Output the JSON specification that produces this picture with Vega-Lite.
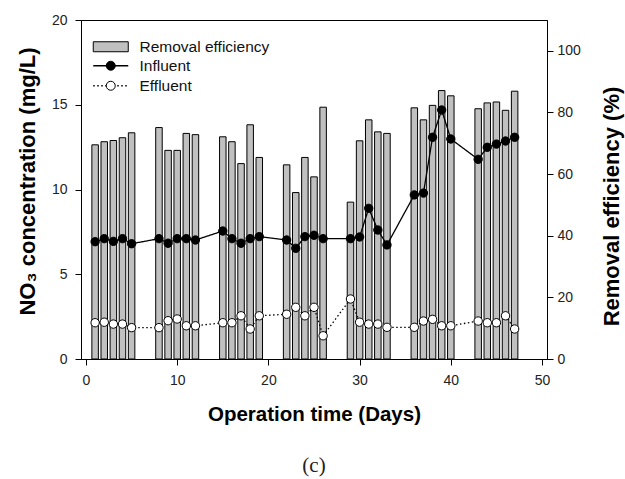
{
  "$schema": "https://vega.github.io/schema/vega-lite/v6.json",
  "width": 466,
  "height": 339,
  "autosize": {"type": "none"},
  "padding": {"left": 81, "top": 20, "right": 78, "bottom": 120},
  "background": "white",
  "config": {
    "view": {"stroke": "black", "strokeWidth": 1},
    "font": "Liberation Sans",
    "axis": {
      "grid": false,
      "domainColor": "black",
      "tickColor": "black",
      "labelFont": "Liberation Sans",
      "labelFontSize": 14,
      "labelColor": "#222",
      "titleFont": "Liberation Sans",
      "titleFontSize": 20.5,
      "titleFontWeight": "bold",
      "titleColor": "#000",
      "tickSize": 6,
      "labelPadding": 4
    },
    "legend": {
      "orient": "none",
      "padding": 0,
      "symbolSize": 100,
      "labelFont": "Liberation Sans",
      "labelFontSize": 15.5,
      "labelColor": "#111",
      "labelOffset": 21,
      "rowPadding": 3
    }
  },
  "title": {
    "text": "(c)",
    "orient": "bottom",
    "anchor": "middle",
    "font": "Liberation Serif",
    "fontSize": 21,
    "fontWeight": "normal",
    "color": "#222",
    "offset": 30
  },
  "datasets": {
    "eff": [
      {"day": 1, "eff": 69.5}, {"day": 2, "eff": 70.5}, {"day": 3, "eff": 70.9}, {"day": 4, "eff": 71.8}, {"day": 5, "eff": 73.4},
      {"day": 8, "eff": 75.1}, {"day": 9, "eff": 67.7}, {"day": 10, "eff": 67.7}, {"day": 11, "eff": 73.2}, {"day": 12, "eff": 72.8},
      {"day": 15, "eff": 72.1}, {"day": 16, "eff": 70.5}, {"day": 17, "eff": 63.4}, {"day": 18, "eff": 76.0}, {"day": 19, "eff": 65.4},
      {"day": 22, "eff": 63.0}, {"day": 23, "eff": 54.0}, {"day": 24, "eff": 65.4}, {"day": 25, "eff": 59.1}, {"day": 26, "eff": 81.7},
      {"day": 29, "eff": 50.9}, {"day": 30, "eff": 70.8}, {"day": 31, "eff": 77.6}, {"day": 32, "eff": 73.7}, {"day": 33, "eff": 73.2},
      {"day": 36, "eff": 81.5}, {"day": 37, "eff": 77.6}, {"day": 38, "eff": 82.3}, {"day": 39, "eff": 87.1}, {"day": 40, "eff": 85.4},
      {"day": 43, "eff": 81.2}, {"day": 44, "eff": 83.1}, {"day": 45, "eff": 83.4}, {"day": 46, "eff": 80.7}, {"day": 47, "eff": 86.9}
    ],
    "no3": [
      {"day": 1, "series": "Influent", "value": 6.92}, {"day": 2, "series": "Influent", "value": 7.10}, {"day": 3, "series": "Influent", "value": 6.94}, {"day": 4, "series": "Influent", "value": 7.10}, {"day": 5, "series": "Influent", "value": 6.80},
      {"day": 8, "series": "Influent", "value": 7.10}, {"day": 9, "series": "Influent", "value": 6.83}, {"day": 10, "series": "Influent", "value": 7.10}, {"day": 11, "series": "Influent", "value": 7.10}, {"day": 12, "series": "Influent", "value": 7.02},
      {"day": 15, "series": "Influent", "value": 7.55}, {"day": 16, "series": "Influent", "value": 7.10}, {"day": 17, "series": "Influent", "value": 6.83}, {"day": 18, "series": "Influent", "value": 7.10}, {"day": 19, "series": "Influent", "value": 7.22},
      {"day": 22, "series": "Influent", "value": 7.02}, {"day": 23, "series": "Influent", "value": 6.53}, {"day": 24, "series": "Influent", "value": 7.22}, {"day": 25, "series": "Influent", "value": 7.30}, {"day": 26, "series": "Influent", "value": 7.10},
      {"day": 29, "series": "Influent", "value": 7.10}, {"day": 30, "series": "Influent", "value": 7.20}, {"day": 31, "series": "Influent", "value": 8.89}, {"day": 32, "series": "Influent", "value": 7.61}, {"day": 33, "series": "Influent", "value": 6.73},
      {"day": 36, "series": "Influent", "value": 9.68}, {"day": 37, "series": "Influent", "value": 9.79}, {"day": 38, "series": "Influent", "value": 13.08}, {"day": 39, "series": "Influent", "value": 14.69}, {"day": 40, "series": "Influent", "value": 12.98},
      {"day": 43, "series": "Influent", "value": 11.78}, {"day": 44, "series": "Influent", "value": 12.49}, {"day": 45, "series": "Influent", "value": 12.68}, {"day": 46, "series": "Influent", "value": 12.86}, {"day": 47, "series": "Influent", "value": 13.08},
      {"day": 1, "series": "Effluent", "value": 2.14}, {"day": 2, "series": "Effluent", "value": 2.17}, {"day": 3, "series": "Effluent", "value": 2.06}, {"day": 4, "series": "Effluent", "value": 2.06}, {"day": 5, "series": "Effluent", "value": 1.85},
      {"day": 8, "series": "Effluent", "value": 1.85}, {"day": 9, "series": "Effluent", "value": 2.26}, {"day": 10, "series": "Effluent", "value": 2.36}, {"day": 11, "series": "Effluent", "value": 1.96}, {"day": 12, "series": "Effluent", "value": 1.96},
      {"day": 15, "series": "Effluent", "value": 2.14}, {"day": 16, "series": "Effluent", "value": 2.14}, {"day": 17, "series": "Effluent", "value": 2.55}, {"day": 18, "series": "Effluent", "value": 1.77}, {"day": 19, "series": "Effluent", "value": 2.55},
      {"day": 22, "series": "Effluent", "value": 2.64}, {"day": 23, "series": "Effluent", "value": 3.05}, {"day": 24, "series": "Effluent", "value": 2.55}, {"day": 25, "series": "Effluent", "value": 3.05}, {"day": 26, "series": "Effluent", "value": 1.37},
      {"day": 29, "series": "Effluent", "value": 3.54}, {"day": 30, "series": "Effluent", "value": 2.17}, {"day": 31, "series": "Effluent", "value": 2.06}, {"day": 32, "series": "Effluent", "value": 2.06}, {"day": 33, "series": "Effluent", "value": 1.87},
      {"day": 36, "series": "Effluent", "value": 1.87}, {"day": 37, "series": "Effluent", "value": 2.24}, {"day": 38, "series": "Effluent", "value": 2.34}, {"day": 39, "series": "Effluent", "value": 1.96}, {"day": 40, "series": "Effluent", "value": 1.96},
      {"day": 43, "series": "Effluent", "value": 2.24}, {"day": 44, "series": "Effluent", "value": 2.14}, {"day": 45, "series": "Effluent", "value": 2.14}, {"day": 46, "series": "Effluent", "value": 2.55}, {"day": 47, "series": "Effluent", "value": 1.77}
    ]
  },
  "layer": [
    {
      "data": {"name": "eff"},
      "mark": {"type": "bar", "width": 6.5, "stroke": "black", "strokeWidth": 1},
      "encoding": {
        "x": {
          "field": "day", "type": "quantitative",
          "scale": {"domain": [0, 50], "nice": false},
          "axis": {"values": [0, 10, 20, 30, 40, 50], "title": "Operation time (Days)", "titleY": 55, "titleBaseline": "middle", "labelPadding": 8}
        },
        "y": {
          "field": "eff", "type": "quantitative",
          "scale": {"domain": [0, 110], "nice": false},
          "axis": {"orient": "right", "values": [0, 20, 40, 60, 80, 100], "title": "Removal efficiency (%)", "titleFontSize": 22, "titleAngle": 270, "titleX": 64, "titleY": 186, "titleBaseline": "middle"}
        },
        "fill": {
          "datum": "Removal efficiency",
          "scale": {"range": ["#c0c0c0"]},
          "legend": {"title": null, "legendX": 22, "legendY": 19, "symbolType": "M-3.5,-1H3.5V1H-3.5Z", "symbolStrokeColor": "black", "symbolStrokeWidth": 1}
        }
      }
    },
    {
      "data": {"name": "no3"},
      "encoding": {
        "x": {"field": "day", "type": "quantitative"},
        "y": {
          "field": "value", "type": "quantitative",
          "scale": {"domain": [0, 20], "nice": false},
          "axis": {"orient": "left", "values": [0, 5, 10, 15, 20], "labelPadding": 8, "title": "NO₃ concentration (mg/L)", "titleFontSize": 22, "titleX": -54, "titleY": 161, "titleBaseline": "middle"}
        }
      },
      "layer": [
        {
          "mark": {"type": "line", "color": "black", "strokeWidth": 1.3},
          "encoding": {
            "strokeDash": {
              "field": "series", "type": "nominal",
              "scale": {"domain": ["Influent", "Effluent"], "range": [[1, 0], [1.5, 2.5]]},
              "legend": {"title": null, "legendX": 22, "legendY": 38, "symbolType": "M-3.5,0H3.5", "symbolStrokeColor": "black", "symbolStrokeWidth": 1.3, "symbolFillColor": "transparent"}
            }
          }
        },
        {
          "mark": {"type": "point", "shape": "circle", "filled": true, "size": 70, "stroke": "black", "strokeWidth": 1, "opacity": 1},
          "encoding": {
            "color": {
              "field": "series", "type": "nominal",
              "sort": ["Influent", "Effluent"],
              "scale": {"range": ["black", "white"]},
              "legend": {"title": null, "legendX": 22, "legendY": 38, "symbolType": "M-0.9,0A0.9,0.9 0 1,0 0.9,0A0.9,0.9 0 1,0 -0.9,0Z", "symbolStrokeColor": "black", "symbolStrokeWidth": 1, "symbolOpacity": 1, "labelOpacity": 0}
            }
          }
        }
      ]
    }
  ],
  "resolve": {"scale": {"y": "independent"}}
}
